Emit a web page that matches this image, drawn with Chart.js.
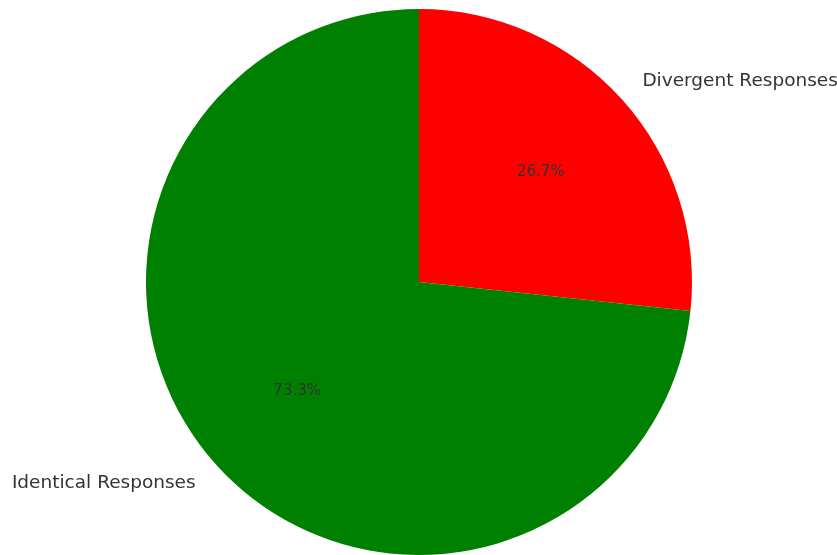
<!DOCTYPE html>
<html>
<head>
<meta charset="utf-8">
<script src="https://cdn.jsdelivr.net/npm/chart.js@4.4.0/dist/chart.umd.min.js"></script>
<style>
html,body{margin:0;padding:0;background:#fff;}
#wrap{width:837px;height:555px;position:relative;}
</style>
</head>
<body>
<div id="wrap"><canvas id="c" width="837" height="555"></canvas></div>
<script>
const categories = ["Divergent Responses", "Identical Responses"];
const values = [26.7, 73.3];
const colors = ["#ff0000", "#008000"];

const labelPlugin = {
  id: 'pieLabels',
  afterDatasetsDraw(chart) {
    const ctx = chart.ctx;
    const meta = chart.getDatasetMeta(0);
    const total = values.reduce((a, b) => a + b, 0);
    meta.data.forEach((arc, i) => {
      const mid = (arc.startAngle + arc.endAngle) / 2;
      const r = arc.outerRadius;
      const cx = arc.x, cy = arc.y;
      ctx.save();
      ctx.fillStyle = '#333333';
      ctx.textBaseline = 'middle';
      // percentage
      ctx.font = 'normal 15px "DejaVu Sans", sans-serif';
      ctx.textAlign = 'center';
      const pct = (values[i] / total * 100).toFixed(1) + '%';
      ctx.fillText(pct, cx + Math.cos(mid) * r * 0.6, cy + Math.sin(mid) * r * 0.6);
      // category label
      ctx.font = 'normal 18.5px "DejaVu Sans", sans-serif';
      const lx = cx + Math.cos(mid) * r * 1.1;
      const ly = cy + Math.sin(mid) * r * 1.1;
      ctx.textAlign = Math.cos(mid) >= 0 ? 'left' : 'right';
      ctx.fillText(categories[i], lx, ly);
      ctx.restore();
    });
  }
};

new Chart(document.getElementById('c'), {
  type: 'pie',
  data: {
    labels: categories,
    datasets: [{
      data: values,
      backgroundColor: colors,
      borderWidth: 0,
      hoverOffset: 0
    }]
  },
  options: {
    responsive: false,
    animation: false,
    layout: { padding: { top: 9, bottom: 0, left: 1, right: 0 } },
    plugins: {
      legend: { display: false },
      tooltip: { enabled: false }
    }
  },
  plugins: [labelPlugin]
});
</script>
</body>
</html>
